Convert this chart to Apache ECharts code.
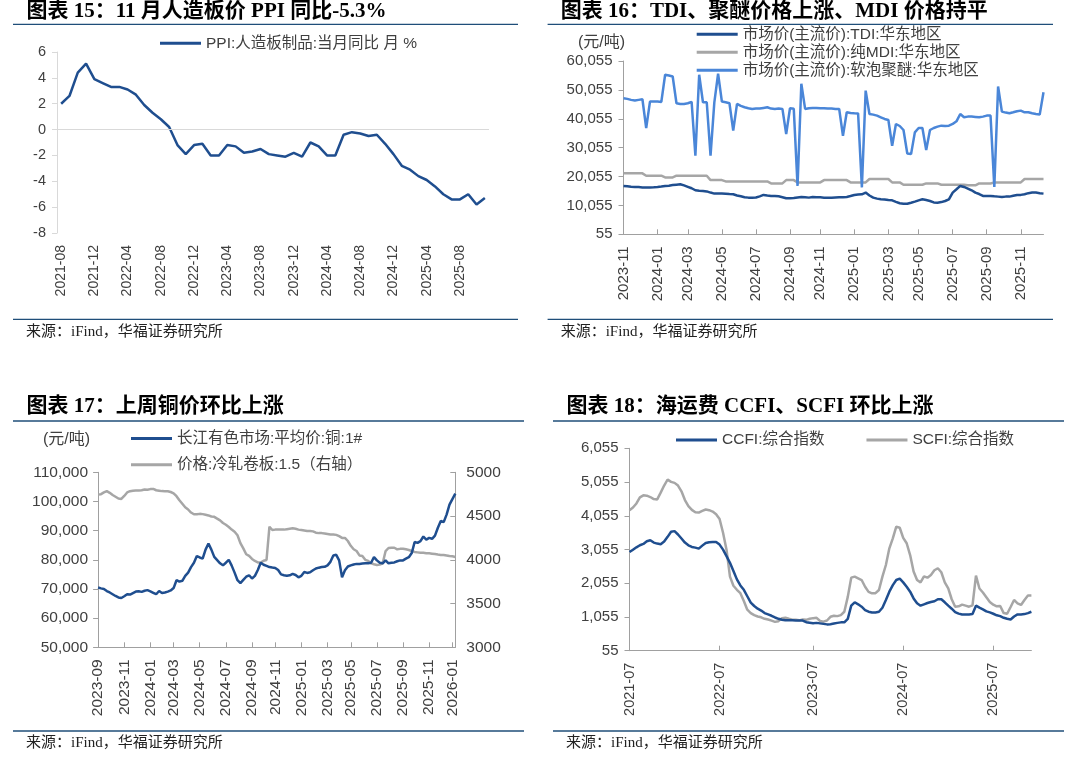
<!DOCTYPE html>
<html><head><meta charset="utf-8">
<script src="https://cdn.jsdelivr.net/npm/echarts@6/dist/echarts.min.js"></script>
<style>html,body{margin:0;padding:0;background:#fff;}#c{width:1080px;height:768px;}</style>
</head><body><div id="c"></div>
<script>
// ---------- Panel 15: PPI ----------
const ppiMonths = ['2021-08','2021-09','2021-10','2021-11','2021-12','2022-01','2022-02','2022-03','2022-04','2022-05','2022-06','2022-07','2022-08','2022-09','2022-10','2022-11','2022-12','2023-01','2023-02','2023-03','2023-04','2023-05','2023-06','2023-07','2023-08','2023-09','2023-10','2023-11','2023-12','2024-01','2024-02','2024-03','2024-04','2024-05','2024-06','2024-07','2024-08','2024-09','2024-10','2024-11','2024-12','2025-01','2025-02','2025-03','2025-04','2025-05','2025-06','2025-07','2025-08','2025-09','2025-10','2025-11'];
const ppiValues = [2.0,2.6,4.4,5.1,3.9,3.6,3.3,3.3,3.1,2.7,1.9,1.3,0.8,0.2,-1.2,-1.9,-1.2,-1.1,-2.0,-2.0,-1.2,-1.3,-1.8,-1.7,-1.5,-1.9,-2.0,-2.1,-1.8,-2.1,-1.0,-1.3,-2.0,-2.0,-0.4,-0.2,-0.3,-0.5,-0.4,-1.1,-1.9,-2.8,-3.1,-3.6,-3.9,-4.4,-5.0,-5.4,-5.4,-5.0,-5.8,-5.3];

// ---------- Panel 16: TDI / MDI / polyether (weekly from 2023-11-03) ----------
const p2Start = '2023-11-03', p2Count = 112;
const tdiPrice = [16800,16700,16550,16460,16400,16300,16230,16300,16350,16460,16600,16800,16900,17100,17250,17380,17000,16500,16000,15300,15150,15070,14900,14500,14140,14140,14140,14100,14000,13910,13500,13200,12900,12750,12750,12800,13200,13680,13500,13330,13330,13200,12900,12520,12520,12600,12800,12980,12900,12750,12980,12900,12850,12750,12750,12750,12800,12850,12900,12980,13300,13680,13800,13910,14490,13500,12750,12400,12170,12100,11900,11820,11300,10800,10660,10660,11000,11360,11800,12170,11900,11590,11100,11010,11200,11590,12170,14500,15640,16800,16460,15900,15300,14490,14000,13330,13330,13330,13200,13100,12980,13100,13100,13400,13680,13700,13910,14300,14490,14490,14300,14140];
const mdiPrice = [21150,21150,21150,21150,21150,21150,20340,20340,20340,20340,20340,19760,19760,19760,20340,20340,20340,20340,20340,20340,20340,20340,20340,18830,18830,18830,18830,18370,18370,18370,18370,18370,18370,18370,18370,18370,18370,18370,18370,17670,17670,17670,17670,18830,18830,18830,18020,18020,18020,18020,18020,18020,18020,18830,18830,18830,18830,18830,18830,18830,18020,18020,18020,18020,18020,19180,19180,19180,19180,19180,19180,18020,18020,18020,17200,17200,17200,17200,17200,17200,17670,17670,17670,17670,17200,17200,17200,17200,17200,17200,17200,17000,17000,17000,17670,17670,17670,17670,18020,18020,18020,18020,18020,18020,18020,18020,19180,19180,19180,19180,19180,19180];
const polyetherPrice = [47170,46940,46590,46360,46590,46820,36860,46010,46010,46010,45900,55280,55050,54700,45430,45200,45200,45430,45900,27240,55280,45780,45780,27240,45660,55630,46010,45780,45430,35930,45200,44500,44040,43690,43460,43580,43580,43810,44040,43580,43460,43580,43460,34770,43690,43500,16800,52200,43460,43690,43810,43810,43690,43690,43580,43580,43460,43460,34190,42300,42070,41960,41900,16300,49800,41720,41490,41150,40570,39990,39640,30710,38250,37550,36160,28050,27820,35350,36860,36860,29210,36160,36860,37320,37670,37550,37670,38250,39170,41720,40570,40800,40800,40700,40570,40800,41150,41150,16460,51230,42540,42190,41960,42300,42650,42880,42300,42300,41960,41720,41490,49260];

// ---------- Panel 17: copper / cold-rolled steel (weekly from 2023-09-01) ----------
const p3Start = '2023-09-01', p3Count = 124;
const copperPrice = [70500,70200,70000,69300,68800,68200,67600,67100,66900,67500,68200,68100,68600,69100,69200,69000,69400,69600,69200,68700,68200,69300,68600,68800,69100,69500,70300,73000,72500,72800,74500,75600,77500,79000,81300,80800,80400,83500,85600,83500,81000,79900,78800,78100,79000,80000,78000,75600,73000,72000,73100,74200,74700,73600,74500,76500,79000,78300,77900,77500,77340,77200,76500,75000,74700,74500,74700,75200,74800,74000,74500,75800,75500,75700,76400,77000,77300,77500,77600,78100,79300,81500,81700,79800,74000,76400,77700,78100,78400,78600,78600,78700,78800,78800,79000,80900,79800,79000,78800,79800,78800,79000,79100,79500,79800,79800,80400,80900,82300,86100,85800,86400,88000,86900,87500,87200,88300,91000,93300,92900,95500,98900,100800,102700];
const steelPrice = [4746,4750,4770,4784,4765,4740,4720,4700,4696,4730,4770,4784,4790,4791,4791,4795,4803,4800,4808,4810,4795,4790,4785,4784,4784,4775,4760,4727,4680,4640,4600,4575,4540,4520,4520,4525,4522,4515,4507,4495,4491,4470,4450,4420,4400,4375,4345,4320,4280,4190,4130,4063,4044,4010,3987,3970,3968,3990,3998,4378,4340,4345,4347,4345,4345,4350,4355,4360,4355,4345,4340,4335,4330,4330,4325,4310,4305,4305,4300,4295,4290,4290,4285,4270,4250,4250,4215,4160,4120,4100,4050,4044,4000,3987,3960,3949,3940,3945,3960,4100,4135,4138,4138,4120,4125,4127,4120,4112,4100,4090,4085,4080,4080,4075,4074,4070,4066,4060,4055,4055,4050,4044,4040,4032];

// ---------- Panel 18: CCFI / SCFI (bi-weekly from 2021-07-02) ----------
const p4Start = '2021-07-02', p4Count = 117;
const ccfiIndex = [2980,3050,3120,3180,3220,3300,3330,3260,3230,3210,3290,3430,3580,3600,3500,3380,3260,3180,3130,3110,3080,3170,3250,3270,3280,3280,3200,3050,2860,2660,2420,2170,1990,1860,1670,1480,1380,1300,1245,1170,1130,1090,1040,1000,975,955,955,955,950,950,950,900,885,870,880,865,850,835,840,860,880,895,895,1000,1390,1490,1430,1360,1260,1210,1190,1190,1210,1330,1560,1805,2000,2150,2190,2080,1950,1805,1605,1460,1390,1430,1470,1500,1520,1580,1580,1490,1390,1300,1200,1155,1130,1130,1130,1140,1390,1330,1280,1220,1190,1150,1105,1080,1030,1000,980,1070,1130,1130,1140,1170,1210];
const scfiIndex = [4220,4300,4420,4600,4660,4650,4610,4550,4540,4740,4950,5130,5060,5030,4950,4780,4520,4340,4230,4160,4150,4200,4240,4220,4180,4100,3960,3550,3050,2250,1980,1860,1760,1530,1270,1170,1110,1070,1045,1000,980,945,910,930,1020,1030,1000,975,970,955,980,970,1000,1020,1030,935,915,950,1060,1090,1080,1110,1210,1650,2220,2250,2200,2150,1950,1800,1755,1760,1855,2250,2595,3090,3385,3730,3700,3400,3240,2890,2400,2150,2080,2260,2220,2300,2440,2500,2380,2080,1900,1580,1360,1370,1420,1390,1360,1400,2280,1900,1780,1640,1500,1420,1370,1380,1170,1150,1350,1560,1460,1410,1560,1690,1690];

// ---------- helpers ----------
function dateSeq(start, n, stepDays) {
  const out = [], t0 = Date.parse(start + 'T00:00:00Z');
  for (let i = 0; i < n; i++) out.push(new Date(t0 + i * stepDays * 86400000).toISOString().slice(0, 10));
  return out;
}
const p2Weeks = dateSeq(p2Start, p2Count, 7);
const p3Weeks = dateSeq(p3Start, p3Count, 7);
const p4Dates = dateSeq(p4Start, p4Count, 14);

const oddMonthStart = (i, v) => (+v.slice(5, 7)) % 2 === 1 && (+v.slice(8, 10)) <= 7;
const julyStart = (i, v) => (+v.slice(5, 7)) === 7 && (+v.slice(8, 10)) <= 14;
const ym = v => v.slice(0, 7);
const comma = v => Number(v).toLocaleString('en-US');
const plain = v => String(v);

const TXT = '#404040', AX = '#a0a0a0', NAVY = '#1F4E79';
const DARK = '#1F4E8F', LIGHT = '#4A86D8', GRAY = '#A6A6A6';
const SANS = "'Liberation Sans','Noto Sans CJK SC',sans-serif";
const SERIF = "'Liberation Serif','Noto Sans CJK SC',serif";

function catAxis(grid, data, opts) {
  return Object.assign({
    type: 'category', gridIndex: grid, data: data, boundaryGap: false,
    axisLine: { show: true, lineStyle: { color: AX, width: 1 } },
    axisTick: { show: true, inside: true, length: 5, lineStyle: { color: AX } },
    axisLabel: { rotate: 90, margin: 12, color: TXT, fontFamily: SANS, fontSize: 15 },
    splitLine: { show: false }
  }, opts);
}
function valAxis(grid, min, max, interval, opts) {
  return Object.assign({
    type: 'value', gridIndex: grid, min: min, max: max, interval: interval,
    axisLine: { show: true, lineStyle: { color: AX, width: 1 } },
    axisTick: { show: true, length: 5, lineStyle: { color: AX } },
    axisLabel: { color: TXT, fontFamily: SANS, fontSize: 15, margin: 11 },
    splitLine: { show: false }
  }, opts);
}
function lineSeries(name, xi, yi, data, color) {
  return { name: name, type: 'line', xAxisIndex: xi, yAxisIndex: yi, data: data,
    showSymbol: false, symbol: 'none', smooth: false, animation: false,
    lineStyle: { color: color, width: 2.5 }, itemStyle: { color: color } };
}
function txt(text, x, y, font, fill) {
  return { type: 'text', x: x, y: y, silent: true,
    style: { text: text, font: font, fill: fill || '#000', align: 'left', verticalAlign: 'middle' } };
}
function hline(x1, x2, y, color, w) {
  return { type: 'line', silent: true, shape: { x1: x1, y1: y, x2: x2, y2: y },
    style: { stroke: color, lineWidth: w } };
}
const legendBase = { padding: 0, icon: 'rect', itemWidth: 41, itemHeight: 3,
  textStyle: { color: TXT, fontFamily: SANS, fontSize: 15.5, lineHeight: 16 }, selectedMode: false };

const TITLE_FONT = "bold 21px " + SERIF;
const SRC_FONT = "15px " + SERIF;

const option = {
  animation: false,
  backgroundColor: '#fff',
  grid: [
    { left: 57, top: 52, width: 432, height: 181, outerBoundsMode: 'none' },
    { left: 623.5, top: 61, width: 420, height: 173.3, outerBoundsMode: 'none' },
    { left: 98.1, top: 472.3, width: 357.2, height: 175, outerBoundsMode: 'none' },
    { left: 629.5, top: 448.3, width: 401.9, height: 202.4, outerBoundsMode: 'none' }
  ],
  xAxis: [
    catAxis(0, ppiMonths, { boundaryGap: true, axisLine: { show: false }, axisTick: { show: false },
      axisLabel: { rotate: 90, margin: 12, color: TXT, fontFamily: SANS, fontSize: 14, interval: 3 } }),
    catAxis(1, p2Weeks, {
      axisTick: { show: true, inside: true, length: 5, interval: oddMonthStart, lineStyle: { color: AX } },
      axisLabel: { rotate: 90, margin: 12, color: TXT, fontFamily: SANS, fontSize: 15, interval: oddMonthStart, formatter: ym } }),
    catAxis(2, p3Weeks, {
      axisTick: { show: true, inside: true, length: 5, interval: oddMonthStart, lineStyle: { color: AX } },
      axisLabel: { rotate: 90, margin: 12, color: TXT, fontFamily: SANS, fontSize: 15.5, interval: oddMonthStart, formatter: ym } }),
    catAxis(3, p4Dates, {
      axisTick: { show: true, inside: true, length: 5, interval: julyStart, lineStyle: { color: AX } },
      axisLabel: { rotate: 90, margin: 12, color: TXT, fontFamily: SANS, fontSize: 14.5, interval: julyStart, formatter: ym } })
  ],
  yAxis: [
    valAxis(0, -8, 6, 2, { axisLine: { show: true, lineStyle: { color: '#d9d9d9' } },
      axisTick: { show: true, length: 5, lineStyle: { color: '#d9d9d9' } },
      axisLabel: { color: TXT, fontFamily: SANS, fontSize: 14.5, margin: 11, formatter: plain } }),
    valAxis(1, 55, 60055, 10000, { axisLabel: { color: TXT, fontFamily: SANS, fontSize: 15, margin: 11, formatter: comma } }),
    valAxis(2, 50000, 110000, 10000, { axisLabel: { color: TXT, fontFamily: SANS, fontSize: 15.5, margin: 10, formatter: comma } }),
    valAxis(2, 3000, 5000, 500, { position: 'right',
      axisTick: { show: true, inside: true, length: 5, lineStyle: { color: AX } },
      axisLabel: { color: TXT, fontFamily: SANS, fontSize: 15.5, margin: 11, formatter: plain } }),
    valAxis(3, 55, 6055, 1000, { axisLabel: { color: TXT, fontFamily: SANS, fontSize: 15, margin: 11, formatter: comma } })
  ],
  legend: [
    Object.assign({}, legendBase, { data: ['PPI:人造板制品:当月同比 月 %'], left: 160, top: 35.3, orient: 'horizontal' }),
    Object.assign({}, legendBase, { data: ['市场价(主流价):TDI:华东地区', '市场价(主流价):纯MDI:华东地区', '市场价(主流价):软泡聚醚:华东地区'], left: 696.7, top: 26.3, orient: 'vertical', itemGap: 2 }),
    Object.assign({}, legendBase, { data: ['长江有色市场:平均价:铜:1#', '价格:冷轧卷板:1.5（右轴）'], left: 131, top: 430.5, orient: 'vertical', itemGap: 10.3 }),
    Object.assign({}, legendBase, { data: ['CCFI:综合指数', 'SCFI:综合指数'], left: 676, top: 432, orient: 'horizontal', itemGap: 42 })
  ],
  series: [
    Object.assign(lineSeries('PPI:人造板制品:当月同比 月 %', 0, 0, ppiValues, DARK), {
      markLine: { silent: true, symbol: 'none', animation: false, label: { show: false },
        lineStyle: { color: '#d9d9d9', width: 1, type: 'solid' }, emphasis: { disabled: true }, data: [{ yAxis: 0 }] } }),
    lineSeries('市场价(主流价):纯MDI:华东地区', 1, 1, mdiPrice, GRAY),
    lineSeries('市场价(主流价):软泡聚醚:华东地区', 1, 1, polyetherPrice, LIGHT),
    lineSeries('市场价(主流价):TDI:华东地区', 1, 1, tdiPrice, DARK),
    lineSeries('价格:冷轧卷板:1.5（右轴）', 2, 3, steelPrice, GRAY),
    lineSeries('长江有色市场:平均价:铜:1#', 2, 2, copperPrice, DARK),
    lineSeries('SCFI:综合指数', 3, 4, scfiIndex, GRAY),
    lineSeries('CCFI:综合指数', 3, 4, ccfiIndex, DARK)
  ],
  graphic: { elements: [
    txt('图表 15：11 月人造板价 PPI 同比-5.3%', 26.5, 11.5, TITLE_FONT),
    txt('图表 16：TDI、聚醚价格上涨、MDI 价格持平', 560.7, 11.5, TITLE_FONT),
    txt('图表 17：上周铜价环比上涨', 26.5, 406.5, TITLE_FONT),
    txt('图表 18：海运费 CCFI、SCFI 环比上涨', 566.5, 406.5, TITLE_FONT),
    hline(13, 518, 24.3, NAVY, 1.3),
    hline(547.6, 1053, 24.3, NAVY, 1.3),
    hline(13, 524, 421, NAVY, 1.3),
    hline(553, 1064, 421, NAVY, 1.3),
    hline(13, 518, 319.3, NAVY, 1.3),
    hline(547.6, 1053, 319.3, NAVY, 1.3),
    hline(13, 524, 731, NAVY, 1.3),
    hline(553, 1064, 731, NAVY, 1.3),
    txt('来源：iFind，华福证券研究所', 26, 331.7, SRC_FONT, '#222'),
    txt('来源：iFind，华福证券研究所', 560.7, 331.7, SRC_FONT, '#222'),
    txt('来源：iFind，华福证券研究所', 26, 743.3, SRC_FONT, '#222'),
    txt('来源：iFind，华福证券研究所', 566, 743.3, SRC_FONT, '#222'),
    txt('(元/吨)', 578, 42.7, "16px " + SANS, TXT),
    txt('(元/吨)', 43, 440, "16px " + SANS, TXT)
  ] }
};
const chart = echarts.init(document.getElementById('c'), null, { renderer: 'canvas', width: 1080, height: 768 });
chart.setOption(option);
</script></body></html>
